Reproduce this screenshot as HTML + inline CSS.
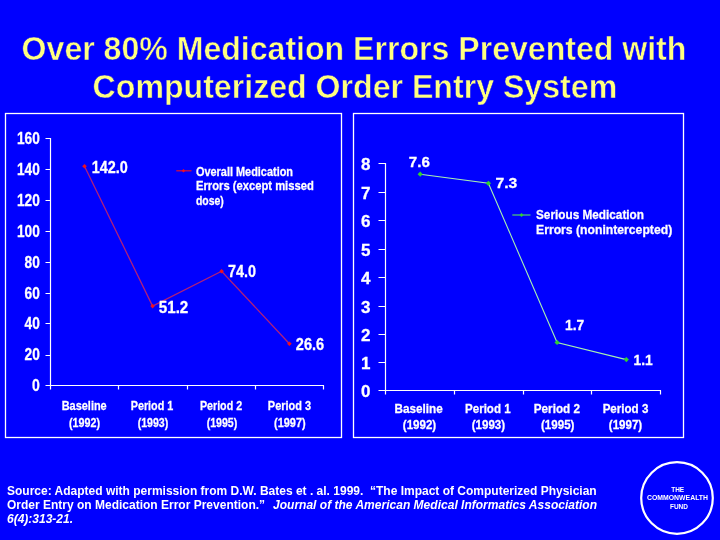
<!DOCTYPE html>
<html><head><meta charset="utf-8"><title>Over 80% Medication Errors Prevented</title>
<style>
html,body{margin:0;padding:0;width:720px;height:540px;overflow:hidden;background:#0000FF;}
svg{display:block;position:absolute;left:0;top:0;}
text{font-family:"Liberation Sans",Arial,sans-serif;font-weight:bold;fill:#fff;}
.t{fill:#FFFF80;font-size:33px;stroke:#0000FF;stroke-width:0.5px;}
.ax{font-size:16px;}
.ch text{stroke:#fff;stroke-width:0.28px;}
.ax2{font-size:17px;}
.cat{font-size:13px;}
.dl{font-size:16px;}
.dl2{font-size:15px;}
.lg{font-size:12.5px;}
.lg2{font-size:13px;}
.src{font-size:12px;}
.src text{white-space:pre;}
.it{font-style:italic;}
.logo{font-size:6.5px;}
</style></head>
<body>
<svg width="720" height="540" viewBox="0 0 720 540">
<rect x="0" y="0" width="720" height="540" fill="#0000FF"/>
<!-- Title -->
<text class="t" x="21.6" y="60" textLength="664.8" lengthAdjust="spacingAndGlyphs">Over 80% Medication Errors Prevented with</text>
<text class="t" x="92.6" y="98" textLength="524.6" lengthAdjust="spacingAndGlyphs">Computerized Order Entry System</text>

<g class="ch">
<!-- Left chart -->
<rect x="5.5" y="113.5" width="336" height="324" fill="none" stroke="#fff" stroke-width="1.3"/>
<g stroke="#fff" stroke-width="1.2" fill="none">
  <path d="M50.5 138V389.5 M45.5 385.5H324"/>
  <path d="M45.5 138.5H50.5 M45.5 169.5H50.5 M45.5 200.5H50.5 M45.5 231.5H50.5 M45.5 262.5H50.5 M45.5 293.5H50.5 M45.5 323.5H50.5 M45.5 355.5H50.5"/>
  <path d="M118.5 385.5V389.5 M187.5 385.5V389.5 M255.5 385.5V389.5 M323.5 385.5V389.5"/>
</g>
<g text-anchor="end" class="ax">
  <text x="39.8" y="144" textLength="22.8" lengthAdjust="spacingAndGlyphs">160</text>
  <text x="39.8" y="175" textLength="22.8" lengthAdjust="spacingAndGlyphs">140</text>
  <text x="39.8" y="206" textLength="22.8" lengthAdjust="spacingAndGlyphs">120</text>
  <text x="39.8" y="237" textLength="22.8" lengthAdjust="spacingAndGlyphs">100</text>
  <text x="39.8" y="267.5" textLength="15.2" lengthAdjust="spacingAndGlyphs">80</text>
  <text x="39.8" y="299" textLength="15.2" lengthAdjust="spacingAndGlyphs">60</text>
  <text x="39.8" y="329" textLength="15.2" lengthAdjust="spacingAndGlyphs">40</text>
  <text x="39.8" y="360" textLength="15.2" lengthAdjust="spacingAndGlyphs">20</text>
  <text x="39.8" y="391" textLength="7.8" lengthAdjust="spacingAndGlyphs">0</text>
</g>
<g text-anchor="middle" class="cat" style="font-size:13.5px">
  <text x="84.2" y="410" textLength="45" lengthAdjust="spacingAndGlyphs">Baseline</text>
  <text x="84.5" y="426.5" textLength="31" lengthAdjust="spacingAndGlyphs">(1992)</text>
  <text x="152" y="410" textLength="42.6" lengthAdjust="spacingAndGlyphs">Period 1</text>
  <text x="153" y="426.5" textLength="30.6" lengthAdjust="spacingAndGlyphs">(1993)</text>
  <text x="221" y="410" textLength="42.2" lengthAdjust="spacingAndGlyphs">Period 2</text>
  <text x="222" y="426.5" textLength="30.6" lengthAdjust="spacingAndGlyphs">(1995)</text>
  <text x="289.5" y="410" textLength="43.3" lengthAdjust="spacingAndGlyphs">Period 3</text>
  <text x="289.8" y="426.5" textLength="31.6" lengthAdjust="spacingAndGlyphs">(1997)</text>
</g>
<polyline points="84.5,166.3 152.6,306.1 221.6,271.2 289.4,343.8" fill="none" stroke="#B0207A" stroke-width="1.3"/>
<g fill="#F01020">
  <polygon points="84.5,164.0 86.8,166.3 84.5,168.6 82.2,166.3"/>
  <polygon points="152.6,303.8 154.9,306.1 152.6,308.4 150.3,306.1"/>
  <polygon points="221.6,268.9 223.9,271.2 221.6,273.5 219.3,271.2"/>
  <polygon points="289.4,341.5 291.7,343.8 289.4,346.1 287.1,343.8"/>
</g>
<g class="dl">
  <text x="91.7" y="172.8" textLength="36" lengthAdjust="spacingAndGlyphs">142.0</text>
  <text x="158.8" y="312.8" textLength="29.5" lengthAdjust="spacingAndGlyphs">51.2</text>
  <text x="227.9" y="277" textLength="28" lengthAdjust="spacingAndGlyphs">74.0</text>
  <text x="295.8" y="349.8" textLength="28.3" lengthAdjust="spacingAndGlyphs">26.6</text>
</g>
<path d="M176.3 170.8H191.5" stroke="#E01030" stroke-width="1.2"/>
<polygon points="183.5,169 185.3,170.8 183.5,172.6 181.7,170.8" fill="#F01020"/>
<g class="lg">
  <text x="196" y="176.3" textLength="97" lengthAdjust="spacingAndGlyphs">Overall Medication</text>
  <text x="196" y="190.2" textLength="117.8" lengthAdjust="spacingAndGlyphs">Errors (except missed</text>
  <text x="196" y="204.8" textLength="27.8" lengthAdjust="spacingAndGlyphs">dose)</text>
</g>

<!-- Right chart -->
<rect x="353.5" y="113.5" width="330" height="324" fill="none" stroke="#fff" stroke-width="1.3"/>
<g stroke="#fff" stroke-width="1.2" fill="none">
  <path d="M385.5 163V394.5 M378.5 390.5H661"/>
  <path d="M378.5 163.5H385.5 M378.5 192.5H385.5 M378.5 220.5H385.5 M378.5 249.5H385.5 M378.5 277.5H385.5 M378.5 306.5H385.5 M378.5 334.5H385.5 M378.5 362.5H385.5"/>
  <path d="M454.5 390.5V394.5 M523.5 390.5V394.5 M591.5 390.5V394.5 M660.5 390.5V394.5"/>
</g>
<g text-anchor="end" class="ax2">
  <text x="370.5" y="169.6">8</text>
  <text x="370.5" y="198.6">7</text>
  <text x="370.5" y="226.6">6</text>
  <text x="370.5" y="255.6">5</text>
  <text x="370.5" y="283.6">4</text>
  <text x="370.5" y="312.6">3</text>
  <text x="370.5" y="340.6">2</text>
  <text x="370.5" y="368.6">1</text>
  <text x="370.5" y="396.6">0</text>
</g>
<g text-anchor="middle" class="cat">
  <text x="418.7" y="413" textLength="48.2" lengthAdjust="spacingAndGlyphs">Baseline</text>
  <text x="419.5" y="428.5" textLength="33.3" lengthAdjust="spacingAndGlyphs">(1992)</text>
  <text x="487.8" y="413" textLength="45.6" lengthAdjust="spacingAndGlyphs">Period 1</text>
  <text x="488.4" y="428.5" textLength="33.3" lengthAdjust="spacingAndGlyphs">(1993)</text>
  <text x="556.9" y="413" textLength="46.2" lengthAdjust="spacingAndGlyphs">Period 2</text>
  <text x="557.7" y="428.5" textLength="33.4" lengthAdjust="spacingAndGlyphs">(1995)</text>
  <text x="625.5" y="413" textLength="45.7" lengthAdjust="spacingAndGlyphs">Period 3</text>
  <text x="625.5" y="428.5" textLength="33.3" lengthAdjust="spacingAndGlyphs">(1997)</text>
</g>
<polyline points="420.2,174.2 488.4,183.3 557.1,342.5 626.3,359.6" fill="none" stroke="#A8F0B0" stroke-width="1.1"/>
<g fill="#30D030">
  <polygon points="420.2,171.6 422.8,174.2 420.2,176.8 417.6,174.2"/>
  <polygon points="488.4,180.7 491.0,183.3 488.4,185.9 485.8,183.3"/>
  <polygon points="557.1,339.9 559.7,342.5 557.1,345.1 554.5,342.5"/>
  <polygon points="626.3,357.0 628.9,359.6 626.3,362.2 623.7,359.6"/>
</g>
<g class="dl2">
  <text x="408.8" y="166.7" textLength="21" lengthAdjust="spacingAndGlyphs">7.6</text>
  <text x="495.5" y="188.3" textLength="21.8" lengthAdjust="spacingAndGlyphs">7.3</text>
  <text x="565" y="329.5" textLength="19.2" lengthAdjust="spacingAndGlyphs">1.7</text>
  <text x="633.6" y="365" textLength="19.2" lengthAdjust="spacingAndGlyphs">1.1</text>
</g>
<path d="M512.3 215H530.5" stroke="#50D070" stroke-width="1.2"/>
<polygon points="521.5,213 523.5,215 521.5,217 519.5,215" fill="#30D030"/>
<g class="lg2">
  <text x="536" y="219" textLength="108" lengthAdjust="spacingAndGlyphs">Serious Medication</text>
  <text x="536" y="234" textLength="136.2" lengthAdjust="spacingAndGlyphs">Errors (nonintercepted)</text>
</g>

</g>
<!-- Source -->
<g class="src" xml:space="preserve">
  <text x="7" y="494.7">Source: Adapted with permission from D.W. Bates et . al. 1999.  “The Impact of Computerized Physician</text>
  <text x="7" y="508.7">Order Entry on Medication Error Prevention.”</text>
  <text x="273" y="508.7" class="it" textLength="324" lengthAdjust="spacingAndGlyphs">Journal of the American Medical Informatics Association</text>
  <text x="7" y="523.3" class="it">6(4):313-21.</text>
</g>

<!-- Logo -->
<circle cx="677" cy="498" r="35.8" fill="none" stroke="#fff" stroke-width="2.2"/>
<g class="logo" text-anchor="middle">
  <text x="677.7" y="492" textLength="13" lengthAdjust="spacing">THE</text>
  <text x="677.5" y="499.8" textLength="61" lengthAdjust="spacingAndGlyphs">COMMONWEALTH</text>
  <text x="679" y="508.5" textLength="17.8" lengthAdjust="spacing">FUND</text>
</g>
</svg>
</body></html>
